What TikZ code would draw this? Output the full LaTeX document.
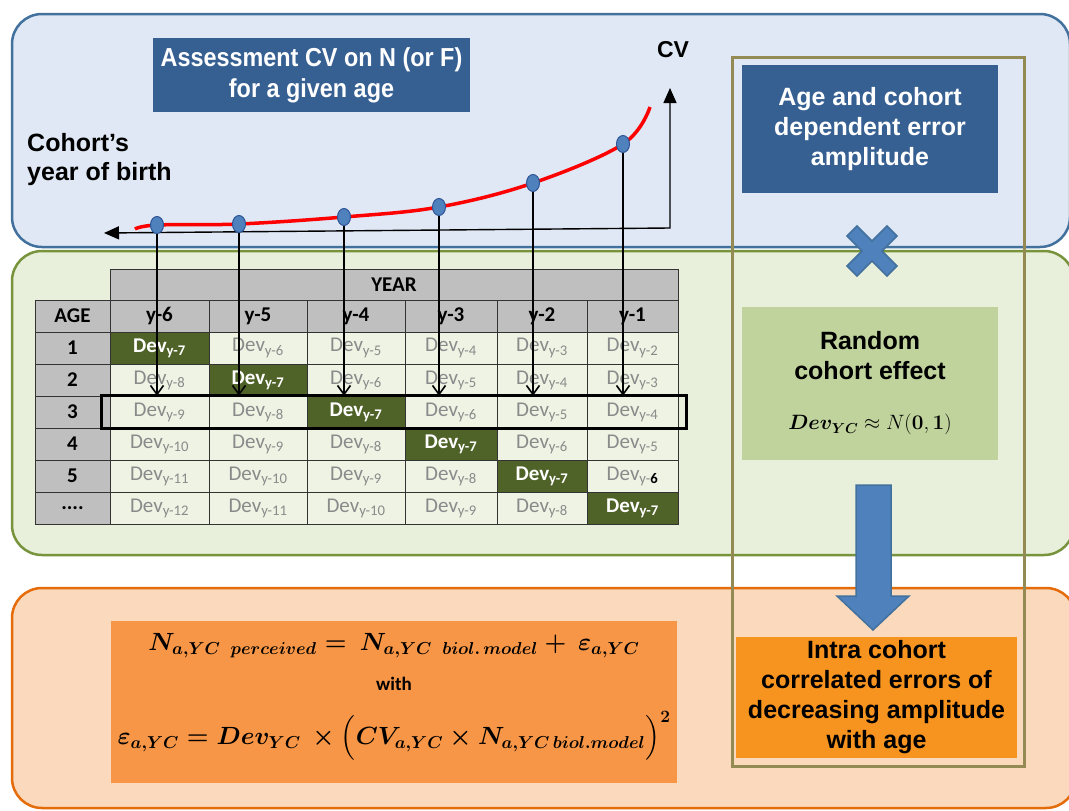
\documentclass[tikz,border=0pt]{standalone}
\usepackage{amsmath,bm}
\usepackage[no-math]{fontspec}
\setmainfont{Carlito}
\newfontfamily\arialfont{Liberation Sans}
\newfontfamily\narrowfont[FakeStretch=0.9]{Liberation Sans}
\usetikzlibrary{arrows.meta,shapes.geometric,fit}

\definecolor{bluepanel}{HTML}{DFE8F4}
\definecolor{blueedge}{HTML}{41719C}
\definecolor{greenpanel}{HTML}{E8EFDA}
\definecolor{greenedge}{HTML}{77933C}
\definecolor{orangepanel}{HTML}{FBD9BC}
\definecolor{orangeedge}{HTML}{E46C0A}
\definecolor{olivebox}{HTML}{948A54}
\definecolor{titleblue}{HTML}{376092}
\definecolor{randgreen}{HTML}{C0D39C}
\definecolor{intraorange}{HTML}{F7941F}
\definecolor{eqorange}{HTML}{F79646}
\definecolor{devgreen}{HTML}{4F6228}
\definecolor{cellbg}{HTML}{EEF3E4}
\definecolor{devgray}{HTML}{8A8A8A}
\definecolor{hdrgray}{HTML}{BFBFBF}
\definecolor{dotblue}{HTML}{4F81BD}
\definecolor{dotedge}{HTML}{2F5597}

\tikzset{
  panel/.style={line width=2.5pt, rounded corners=30pt},
  hdr/.style={draw=black!80, fill=hdrgray, font=\bfseries\fontsize{21}{22}\selectfont,
    minimum height=32pt, inner sep=0pt},
  cell/.style={draw=black!80, fill=cellbg, text=devgray, font=\fontsize{21}{22}\selectfont,
    minimum height=32pt, inner sep=0pt},
  hot/.style={cell, fill=devgreen, text=white, font=\bfseries\fontsize{21}{22}\selectfont},
  c0/.style={minimum width=75pt}, c1/.style={minimum width=99pt},
  c2/.style={minimum width=98pt}, c3/.style={minimum width=98pt},
  c4/.style={minimum width=92pt}, c5/.style={minimum width=90pt},
  c6/.style={minimum width=91pt},
  dot/.style={ellipse, fill=dotblue, draw=dotedge, line width=1pt,
    minimum width=13pt, minimum height=17pt, inner sep=0pt},
  drop/.style={black, line width=1.6pt, -{Straight Barb[length=9pt,width=13pt]}},
  axis/.style={black, line width=1.4pt},
  boxtext/.style={align=center, inner sep=0pt,
    font=\arialfont\bfseries\fontsize{25}{30}\selectfont},
  blockblue/.style={fill=dotblue, draw=blueedge, line width=1.5pt},
}

\begin{document}
\begin{tikzpicture}[x=1pt,y=-1pt]
  \useasboundingbox (0,0) rectangle (1069,811);
  \fill[white] (0,0) rectangle (1069,811);

  % three panels
  \draw[panel, draw=blueedge, fill=bluepanel] (12,14) rectangle (1070,247);
  \draw[panel, draw=greenedge, fill=greenpanel] (12,251) rectangle (1074,555);
  \draw[panel, draw=orangeedge, fill=orangepanel] (12,588) rectangle (1076,808);

  % table header
  \node[hdr, minimum width=568pt, minimum height=31pt] (year) at (394,284.5) {YEAR};
  \node[hdr, c0] (age) at (72.5,316) {AGE};
  \node[hdr, c1] (h1) at (159.5,316) {y-6};
  \node[hdr, c2] (h2) at (258,316) {y-5};
  \node[hdr, c3] (h3) at (356,316) {y-4};
  \node[hdr, c4] (h4) at (451,316) {y-3};
  \node[hdr, c5] (h5) at (542,316) {y-2};
  \node[hdr, c6] (h6) at (632.5,316) {y-1};

  % age 1
  \node[hdr, c0] (r1) at (72.5,348) {1};
  \node[hot, c1] (c11) at (159.5,348) {Dev\textsubscript{y-7}};
  \node[cell, c2] (c12) at (258,348) {Dev\textsubscript{y-6}};
  \node[cell, c3] (c13) at (356,348) {Dev\textsubscript{y-5}};
  \node[cell, c4] (c14) at (451,348) {Dev\textsubscript{y-4}};
  \node[cell, c5] (c15) at (542,348) {Dev\textsubscript{y-3}};
  \node[cell, c6] (c16) at (632.5,348) {Dev\textsubscript{y-2}};
  % age 2
  \node[hdr, c0] (r2) at (72.5,380) {2};
  \node[cell, c1] (c21) at (159.5,380) {Dev\textsubscript{y-8}};
  \node[hot, c2] (c22) at (258,380) {Dev\textsubscript{y-7}};
  \node[cell, c3] (c23) at (356,380) {Dev\textsubscript{y-6}};
  \node[cell, c4] (c24) at (451,380) {Dev\textsubscript{y-5}};
  \node[cell, c5] (c25) at (542,380) {Dev\textsubscript{y-4}};
  \node[cell, c6] (c26) at (632.5,380) {Dev\textsubscript{y-3}};
  % age 3
  \node[hdr, c0] (r3) at (72.5,412) {3};
  \node[cell, c1] (c31) at (159.5,412) {Dev\textsubscript{y-9}};
  \node[cell, c2] (c32) at (258,412) {Dev\textsubscript{y-8}};
  \node[hot, c3] (c33) at (356,412) {Dev\textsubscript{y-7}};
  \node[cell, c4] (c34) at (451,412) {Dev\textsubscript{y-6}};
  \node[cell, c5] (c35) at (542,412) {Dev\textsubscript{y-5}};
  \node[cell, c6] (c36) at (632.5,412) {Dev\textsubscript{y-4}};
  % age 4
  \node[hdr, c0] (r4) at (72.5,444) {4};
  \node[cell, c1] (c41) at (159.5,444) {Dev\textsubscript{y-10}};
  \node[cell, c2] (c42) at (258,444) {Dev\textsubscript{y-9}};
  \node[cell, c3] (c43) at (356,444) {Dev\textsubscript{y-8}};
  \node[hot, c4] (c44) at (451,444) {Dev\textsubscript{y-7}};
  \node[cell, c5] (c45) at (542,444) {Dev\textsubscript{y-6}};
  \node[cell, c6] (c46) at (632.5,444) {Dev\textsubscript{y-5}};
  % age 5
  \node[hdr, c0] (r5) at (72.5,476) {5};
  \node[cell, c1] (c51) at (159.5,476) {Dev\textsubscript{y-11}};
  \node[cell, c2] (c52) at (258,476) {Dev\textsubscript{y-10}};
  \node[cell, c3] (c53) at (356,476) {Dev\textsubscript{y-9}};
  \node[cell, c4] (c54) at (451,476) {Dev\textsubscript{y-8}};
  \node[hot, c5] (c55) at (542,476) {Dev\textsubscript{y-7}};
  \node[cell, c6] (c56) at (632.5,476) {Dev\textsubscript{y-\textcolor{black}{\bfseries 6}}};
  % older ages
  \node[hdr, c0] (r6) at (72.5,508) {....};
  \node[cell, c1] (c61) at (159.5,508) {Dev\textsubscript{y-12}};
  \node[cell, c2] (c62) at (258,508) {Dev\textsubscript{y-11}};
  \node[cell, c3] (c63) at (356,508) {Dev\textsubscript{y-10}};
  \node[cell, c4] (c64) at (451,508) {Dev\textsubscript{y-9}};
  \node[cell, c5] (c65) at (542,508) {Dev\textsubscript{y-8}};
  \node[hot, c6] (c66) at (632.5,508) {Dev\textsubscript{y-7}};

  \node[draw=black, line width=3pt, fit=(c31)(c36), inner xsep=8pt, inner ysep=0pt] (row3) {};

  % CV curve against cohort
  \coordinate (orig) at (670,228);
  \coordinate (cvtip) at (670,88);
  \coordinate (birthtip) at (104,233);
  \draw[axis, {Triangle[length=15pt,width=13pt]}-{Triangle[length=15pt,width=13pt]}] (birthtip) -- (orig) -- (cvtip);
  \node[font=\arialfont\bfseries\fontsize{23}{26}\selectfont] (cv) at (673,50) {CV};
  \node[anchor=west, align=left, inner sep=0pt, font=\arialfont\bfseries\fontsize{25}{29}\selectfont] (birth) at (27,160) {Cohort’s\\year of birth};

  \coordinate (p1) at (157,225);
  \coordinate (p2) at (239,224);
  \coordinate (p3) at (344,217);
  \coordinate (p4) at (439,207);
  \coordinate (p5) at (533,183);
  \coordinate (p6) at (623,144);
  \draw[red, line width=3.5pt] plot[smooth, tension=0.6] coordinates {(135,229) (p1) (p2) (p3) (p4) (p5) (p6) (650,107)};

  \node[dot] (d1) at (p1) {};
  \node[dot] (d2) at (p2) {};
  \node[dot] (d3) at (p3) {};
  \node[dot] (d4) at (p4) {};
  \node[dot] (d5) at (p5) {};
  \node[dot] (d6) at (p6) {};
  \draw[drop] (d1.south) -- (d1.south |- c31.north);
  \draw[drop] (d2.south) -- (d2.south |- c31.north);
  \draw[drop] (d3.south) -- (d3.south |- c31.north);
  \draw[drop] (d4.south) -- (d4.south |- c31.north);
  \draw[drop] (d5.south) -- (d5.south |- c31.north);
  \draw[drop] (d6.south) -- (d6.south |- c31.north);

  \node[fill=titleblue, text=white, minimum width=317pt, minimum height=74pt, align=center,
    font=\narrowfont\bfseries\fontsize{26}{31}\selectfont] (assess) at (311.5,75) {Assessment CV on N (or F)\\for a given age};

  % formula
  \node[fill=eqorange, minimum width=566pt, minimum height=162pt] (eqbox) at (394,702) {};
  \node[align=center, font=\fontsize{24}{30}\selectfont] (eq) at (394,697)
    {{\boldmath$N_{a,YC\ \ perceived} = \ N_{a,YC\ \ biol.\,model} + \ \varepsilon_{a,YC}$}\\[10pt]
     {\bfseries\fontsize{19}{20}\selectfont with}\\[20pt]
     {\boldmath$\varepsilon_{a,YC} = Dev_{YC}\ \times\Bigl(CV_{a,YC}\times N_{a,YC\,biol.model}\Bigr)^{2}$}};

  % right column
  \node[boxtext, fill=titleblue, text=white, minimum width=256pt, minimum height=128pt] (amp) at (870,129) {Age and cohort\\dependent error\\amplitude};
  \node[boxtext, fill=randgreen, text=black, minimum width=256pt, minimum height=153pt] (rand) at (870,383.5)
    {Random\\cohort effect\\[20pt]{\rmfamily\mdseries\fontsize{22}{26}\selectfont$\bm{Dev_{YC}}\approx N(\bm{0},\bm{1})$}};
  \node[boxtext, fill=intraorange, text=black, minimum width=281pt, minimum height=121pt] (intra) at (876.5,697.5)
    {Intra cohort\\correlated errors of\\decreasing amplitude\\with age};

  % cross between amplitude and random effect
  \draw[blockblue] (872,251) ++(-15,-25) -- ++(15,15) -- ++(15,-15) -- ++(10,10) -- ++(-15,15)
    -- ++(15,15) -- ++(-10,10) -- ++(-15,-15) -- ++(-15,15) -- ++(-10,-10) -- ++(15,-15) -- ++(-15,-15) -- cycle;

  % block arrow down to the errors box
  \draw[blockblue] (856,485) -- (891,485) -- (891,596) -- (909,596) -- (873,630) -- (837,596) -- (856,596) -- cycle;

  \draw[olivebox, line width=3pt] (732,57) rectangle (1024,766);
\end{tikzpicture}
\end{document}
